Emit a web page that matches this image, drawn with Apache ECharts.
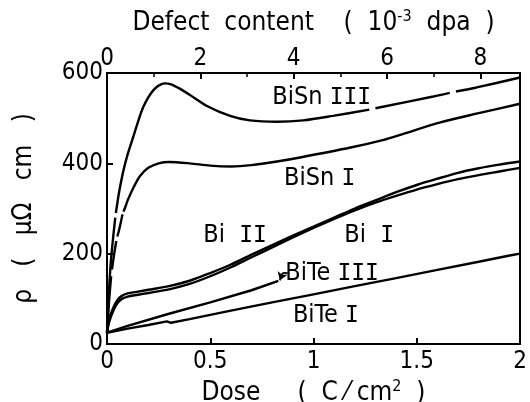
<!DOCTYPE html>
<html>
<head>
<meta charset="utf-8">
<script src="https://cdn.jsdelivr.net/npm/echarts@6/dist/echarts.min.js"></script>
<style>
  html, body { margin: 0; padding: 0; background: #fff; }
  #chart { width: 530px; height: 402px; }
</style>
</head>
<body>
<div id="chart"></div>
<script>
// Resistivity (µΩ cm) vs. irradiation dose (C/cm²) for Bi and Bi alloy films.
// A null rho marks a break in the traced curve.
const doseTicks = ['0', '0.5', '1', '1.5', '2'];
const rhoTicks = ['0', '200', '400', '600'];
const defectTicks = ['0', '2', '4', '6', '8'];
const defectMax = 8.85; // dpa scale (1e-3) at dose = 2 C/cm²

const biSnIII = [[0,25],[0.01,120],[0.02,190],[0.04,280],[0.0415,null],[0.043,290],[0.05,312],[0.06,340],[0.08,385],[0.1,420],[0.126,457],[0.15,492],[0.174,523],[0.2,546],[0.225,562],[0.25,572],[0.28,577],[0.31,575],[0.35,566],[0.4,552],[0.484,527],[0.596,505],[0.692,495],[0.823,492],[0.95,495],[1.094,505],[1.27,519],[1.285,null],[1.3,522],[1.58,548],[1.66,556],[1.675,null],[1.69,559],[1.79,568],[2,590]];
const biSnI = [[0,25],[0.01,95],[0.02,150],[0.022,null],[0.024,165],[0.035,200],[0.045,228],[0.0475,null],[0.05,238],[0.06,255],[0.075,287],[0.0775,null],[0.08,293],[0.09,305],[0.1,318],[0.13,348],[0.16,372],[0.2,390],[0.25,400],[0.3,403],[0.4,400],[0.5,395],[0.6,393],[0.7,396],[0.823,404],[0.935,413],[1.18,435],[1.34,452],[1.42,463],[1.61,490],[1.8,511],[2,532]];
const biII = [[0,25],[0.01,55],[0.03,80],[0.05,97],[0.07,106],[0.1,112],[0.15,116],[0.2,120],[0.3,128],[0.4,140],[0.5,157],[0.6,176],[0.7,198],[0.8,219],[0.9,240],[1.0,260],[1.1,280],[1.2,300],[1.3,318],[1.4,336],[1.5,352],[1.6,366],[1.7,379],[1.8,389],[1.9,397],[2,404]];
const biI = [[0,25],[0.01,48],[0.03,73],[0.05,90],[0.07,99],[0.1,105],[0.15,109],[0.2,113],[0.3,121],[0.4,133],[0.5,150],[0.6,170],[0.7,192],[0.8,214],[0.9,236],[1.0,257],[1.1,277],[1.2,296],[1.3,313],[1.4,328],[1.5,342],[1.6,354],[1.7,365],[1.8,374],[1.9,382],[2,390]];
const biTeIII = [[0,25],[0.1,40],[0.3,67],[0.5,92],[0.7,119],[0.83,140]];
const biTeI = [[0,25],[0.1,34],[0.2,42],[0.29,50],[0.31,47],[0.4,55],[0.6,74],[0.8,92],[1.0,110],[1.2,128],[1.4,146],[1.6,164],[1.8,182],[1.95,196],[2,200]];

// Curve names (alloy + sample numeral) and where each is written (dose, rho)
const curveAlloys = ['BiSn', 'BiSn', 'Bi', 'Bi', 'BiTe', 'BiTe'];
const curveNumerals = ['III', 'I', 'II', 'I', 'III', 'I'];
const nameAnchorsX = [1.04, 1.03, 0.62, 1.27, 1.09, 1.06];
const nameAnchorsY = [545, 366, 240, 240, 155, 62];

const NARROW = '"DejaVu Sans Condensed", "DejaVu Sans", sans-serif';
const MONO = '"DejaVu Sans Mono", monospace';
const INK = '#000';
const FS = 24;
const TS = 26;

const chart = echarts.init(document.getElementById('chart'), null, { renderer: 'canvas' });

function curve(data, smooth) {
  return {
    type: 'line', data: data, xAxisIndex: 0, yAxisIndex: 0,
    smooth: smooth, connectNulls: false, showSymbol: false, symbol: 'none',
    lineStyle: { color: INK, width: 2.4 }, silent: true, z: 3
  };
}

const arrow = curve(biTeIII, false);
arrow.markLine = {
  silent: true,
  animation: false,
  lineStyle: { color: INK, width: 1.8, type: 'solid' },
  label: { show: false },
  symbolSize: 8,
  data: [
    [{ coord: [0.875, 157], symbol: 'none' }, { coord: [0.85, 157], symbol: 'none' }],
    [{ coord: [0.85, 157], symbol: 'none' }, { coord: [0.837, 141], symbol: 'arrow' }]
  ]
};

const labelData = curveAlloys.map((n, i) => [nameAnchorsX[i], nameAnchorsY[i], n, curveNumerals[i]]);
const richTitle = {
  a: { fontFamily: NARROW, fontSize: TS, color: INK },
  s: { fontFamily: NARROW, fontSize: 16, color: INK, padding: [0, 0, 12, 0] }
};

const option = {
  animation: false,
  backgroundColor: '#fff',
  textStyle: { fontFamily: NARROW, color: INK },
  grid: {
    left: 107, right: 10, top: 73, bottom: 58,
    outerBoundsMode: 'none', containLabel: false,
    show: true, borderColor: INK, borderWidth: 2, backgroundColor: 'transparent'
  },
  xAxis: [
    {
      type: 'value', position: 'bottom', min: 0, max: 2, interval: 0.5,
      name: '{a|Dose     (  C ⁄ cm}{s|2}{a|  )}', nameLocation: 'middle', nameGap: 26,
      nameTextStyle: { rich: richTitle },
      axisLine: { show: true, lineStyle: { color: INK, width: 2 } },
      axisTick: { show: true, inside: true, length: 6, lineStyle: { color: INK, width: 2 } },
      axisLabel: { fontFamily: NARROW, fontSize: FS, color: INK, margin: 6,
        formatter: v => { const k = Math.round(v / 0.5); return Math.abs(v - k * 0.5) < 1e-9 ? doseTicks[k] : ''; } },
      splitLine: { show: false }
    },
    {
      type: 'value', position: 'top', min: 0, max: defectMax, interval: 2,
      name: '{a|Defect  content    (  10}{s|-3}{a|  dpa  )}', nameLocation: 'middle', nameGap: 36,
      nameTextStyle: { rich: richTitle },
      axisLine: { show: true, lineStyle: { color: INK, width: 2 } },
      axisTick: { show: true, inside: true, length: 6, lineStyle: { color: INK, width: 2 } },
      minorTick: { show: true, splitNumber: 2, length: 4, lineStyle: { color: INK, width: 1.5 } },
      axisLabel: { fontFamily: NARROW, fontSize: FS, color: INK, margin: 2,
        formatter: v => { const k = Math.round(v / 2); return Math.abs(v - k * 2) < 1e-9 ? defectTicks[k] : ''; } },
      splitLine: { show: false }
    }
  ],
  yAxis: [
    {
      type: 'value', min: 0, max: 600, interval: 200,
      name: 'ρ   (   μΩ   cm   )', nameLocation: 'middle', nameGap: 70,
      nameTextStyle: { fontFamily: NARROW, fontSize: TS, color: INK },
      axisLine: { show: true, lineStyle: { color: INK, width: 2 } },
      axisTick: { show: true, inside: true, length: 6, lineStyle: { color: INK, width: 2 } },
      axisLabel: { fontFamily: NARROW, fontSize: FS, color: INK, margin: 4,
        formatter: v => rhoTicks[Math.round(v / 200)] },
      splitLine: { show: false }
    }
  ],
  series: [
    curve(biSnIII, 0.3),
    curve(biSnI, 0.3),
    curve(biII, 0.3),
    curve(biI, 0.3),
    arrow,
    curve(biTeI, false),
    {
      type: 'scatter', data: labelData, symbolSize: 0, silent: true, z: 5,
      itemStyle: { opacity: 1 },
      label: {
        show: true, position: 'inside', color: INK, textBorderWidth: 0,
        formatter: p => '{a|' + p.data[2] + (p.data[2] === 'Bi' ? '  ' : ' ') + '}{r|' + p.data[3] + '}',
        rich: {
          a: { fontFamily: NARROW, fontSize: 25, color: INK },
          r: { fontFamily: MONO, fontSize: 23, color: INK }
        }
      }
    }
  ]
};

chart.setOption(option);
</script>
</body>
</html>
